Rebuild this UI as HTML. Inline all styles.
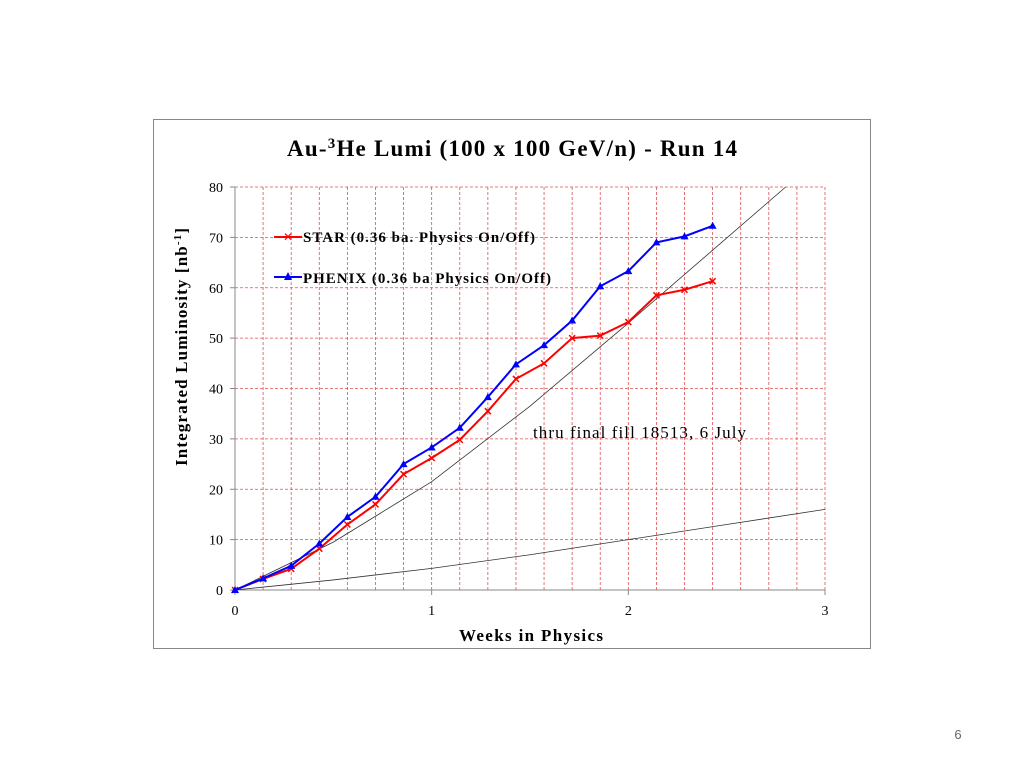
<!DOCTYPE html>
<html><head><meta charset="utf-8"><style>
body{margin:0;width:1024px;height:768px;background:#fff;font-family:"Liberation Serif",serif;overflow:hidden}
</style></head><body>
<svg width="1024" height="768" xmlns="http://www.w3.org/2000/svg">
<rect x="153.5" y="119.5" width="717" height="529" fill="#fff" stroke="#888"/>
<text x="512" y="156" text-anchor="middle" font-size="23" font-weight="bold" textLength="450">Au-<tspan font-size="15" dy="-8">3</tspan><tspan dy="8">He Lumi (100 x 100 GeV/n) - Run 14</tspan></text>
<g id="grid"></g><g id="axes"></g><g id="series"></g>
<text x="533" y="438" font-size="17" textLength="213">thru  final  fill 18513,  6 July</text>
<g>
<line x1="274" y1="237" x2="302" y2="237" stroke="#f00" stroke-width="2"/>
<text x="288" y="241" font-size="12" fill="#f00" text-anchor="middle">✕</text>
<text x="303" y="242" font-size="15" font-weight="bold" textLength="232">STAR (0.36 ba. Physics On/Off)</text>
<line x1="274" y1="277" x2="302" y2="277" stroke="#00f" stroke-width="2"/>
<polygon points="288,272 292,280 284,280" fill="#00f"/>
<text x="303" y="283" font-size="15" font-weight="bold" textLength="248">PHENIX (0.36 ba Physics On/Off)</text>
</g>
<text x="531" y="641" text-anchor="middle" font-size="17" font-weight="bold" textLength="144">Weeks  in  Physics</text>
<text transform="translate(187,347) rotate(-90)" text-anchor="middle" font-size="17" font-weight="bold" textLength="238">Integrated  Luminosity  [nb<tspan font-size="11" dy="-6">-1</tspan><tspan dy="6">]</tspan></text>
<text x="958" y="739" font-family="Liberation Sans, sans-serif" font-size="13" fill="#666" text-anchor="middle">6</text>
</svg>
<script>
const xTicks=[0,1,2,3];
const yTicks=[0,10,20,30,40,50,60,70,80];
const starVals=[0,2.2,4.2,8.2,13,17,23,26.2,29.8,35.5,41.9,45,50,50.5,53.2,58.5,59.6,61.3];
const phenixVals=[0,2.3,4.8,9.2,14.5,18.5,25,28.3,32.2,38.3,44.8,48.6,53.5,60.3,63.3,69,70.2,72.3];
const upperX=[0,0.5,1,1.5,2,2.43,2.8];
const upperY=[0,9.5,21.5,36.5,53,67.5,80];
const lowerX=[0,0.5,1,1.5,2,2.5,3];
const lowerY=[0,2,4.3,7,10,13,16];
const NS="http://www.w3.org/2000/svg";
const X=v=>235+v*(590/3), Y=v=>590-v*(403/80);
function mk(t,a,p){const e=document.createElementNS(NS,t);for(const k in a)e.setAttribute(k,a[k]);p.appendChild(e);return e;}
const g=document.getElementById('grid'),ax=document.getElementById('axes'),s=document.getElementById('series');
for(let d=1;d<=21;d++){const l=mk('line',{x1:X(d/7),x2:X(d/7),y1:Y(80),y2:Y(0),stroke:'#e05050','stroke-dasharray':'3,2','stroke-width':0.8},g);
}
yTicks.forEach(v=>{if(v>0){const l=mk('line',{x1:X(0),x2:X(3),y1:Y(v),y2:Y(v),stroke:'#e05050','stroke-dasharray':'3,2','stroke-width':0.8},g);
}
const t=mk('text',{x:X(0)-12,y:Y(v)+5,'font-size':14,'text-anchor':'end'},ax);t.textContent=v;

mk('line',{x1:X(0)-5,x2:X(0),y1:Y(v),y2:Y(v),stroke:'#888'},ax);});
xTicks.forEach(v=>{const t=mk('text',{x:X(v),y:Y(0)+25,'font-size':14,'text-anchor':'middle'},ax);t.textContent=v;

mk('line',{x1:X(v),x2:X(v),y1:Y(0),y2:Y(0)+5,stroke:'#888'},ax);});
mk('line',{x1:X(0),x2:X(0),y1:Y(80),y2:Y(0),stroke:'#888'},ax);
mk('line',{x1:X(0),x2:X(3),y1:Y(0),y2:Y(0),stroke:'#888'},ax);
function curve(xs,ys,name){const p=mk('polyline',{points:xs.map((x,i)=>X(x)+','+Y(ys[i])).join(' '),fill:'none',stroke:'#333','stroke-width':0.8},s);
}
curve(upperX,upperY,'upper-reference-curve');curve(lowerX,lowerY,'lower-reference-curve');
function series(vals,col,name,tri){const p=mk('polyline',{points:vals.map((v,i)=>X(i/7)+','+Y(v)).join(' '),fill:'none',stroke:col,'stroke-width':2},s);

vals.forEach((v,i)=>{const x=X(i/7),y=Y(v);let m;
if(tri)m=mk('polygon',{points:`${x},${y-4} ${x+4},${y+3} ${x-4},${y+3}`,fill:col},s);
else m=mk('path',{d:`M${x-3},${y-3}L${x+3},${y+3}M${x+3},${y-3}L${x-3},${y+3}`,stroke:col,'stroke-width':1.5},s);
});}
series(starVals,'#f00','star',false);series(phenixVals,'#00f','phenix',true);
</script>
</body></html>
